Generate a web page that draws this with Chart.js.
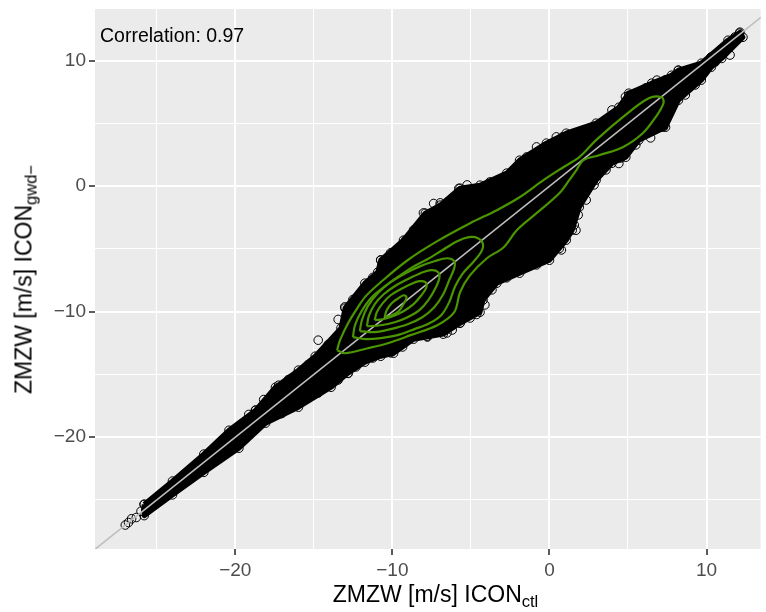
<!DOCTYPE html>
<html>
<head>
<meta charset="utf-8">
<script src="https://cdn.jsdelivr.net/npm/chart.js@4.4.1/dist/chart.umd.min.js"></script>
<style>
  html, body { margin: 0; padding: 0; background: #ffffff; }
  #wrap { position: relative; width: 766px; height: 612px; overflow: hidden; }
  #wrap canvas { position: absolute; left: 0; top: 0; }
  .lbl { position: absolute; font-family: "Liberation Sans", Arial, sans-serif; color: #000; line-height: 1; white-space: nowrap; }
  .lbl sub { font-size: 0.72em; vertical-align: -5px; line-height: 0; }
  #xtitle { left: 135.5px; width: 600px; top: 582.5px; font-size: 23px; text-align: center; }
  #ytitle { left: -176.3px; width: 400px; top: 267.5px; font-size: 23px; text-align: center; transform: rotate(-90deg); }
  #corr { left: 100px; top: 25.7px; font-size: 19.5px; }
</style>
</head>
<body>
<div id="wrap">
  <canvas id="chart" width="766" height="612"></canvas>
  <div class="lbl" id="corr">Correlation: 0.97</div>
  <div class="lbl" id="xtitle">ZMZW [m/s] ICON<sub>ctl</sub></div>
  <div class="lbl" id="ytitle">ZMZW [m/s] ICON<sub>gwd−</sub></div>
</div>
<script>
/* ===================================
   DATA
   =================================== */

// axis limits of the panel and tick spacing
const xLimits = [-28.93, 13.45];
const yLimits = [-28.91, 14.12];
const tickStep = 5;

// outline of the dense (solid black) part of the point cloud: ctl vs gwd-
const cloudOutline = [
  [-25.8, -25.35], [-24.0, -23.5], [-22.0, -21.35], [-20.4, -19.45], [-18.7, -17.85],
  [-17.44, -16.02], [-15.98, -14.66], [-14.91, -13.55], [-13.27, -11.31], [-13.01, -9.72],
  [-11.75, -7.73], [-10.93, -6.85], [-10.74, -5.90], [-9.29, -4.30], [-7.90, -2.15],
  [-6.95, -1.51], [-5.69, -0.16], [-4.42, 0.08], [-2.72, 1.04], [-1.90, 2.07],
  [-0.19, 3.43], [1.07, 4.22], [2.97, 5.02], [4.42, 6.29], [5.05, 7.41],
  [6.51, 8.21], [7.77, 8.84], [8.21, 9.24], [9.67, 9.80], [11.37, 11.63],
  [12.13, 12.27], [12.32, 11.87], [10.97, 10.18], [10.30, 9.48], [9.67, 8.45],
  [8.21, 6.85], [7.39, 4.70], [5.69, 3.67], [4.86, 2.31], [3.98, 1.83],
  [2.97, 0.48], [1.90, -1.67], [1.45, -3.51], [1.07, -4.30], [0.0, -5.90],
  [-1.90, -6.93], [-3.35, -7.73], [-4.23, -9.08], [-4.42, -10.04], [-5.69, -10.92],
  [-6.76, -11.79], [-8.65, -12.19], [-9.92, -13.31], [-10.74, -13.55], [-11.75, -14.02],
  [-12.82, -14.90], [-13.90, -16.02], [-15.98, -17.61], [-18.07, -18.88], [-19.77, -20.88],
  [-22.0, -22.8], [-24.0, -24.6], [-25.8, -26.25],
];

// single open circles visible in the two thin tails
const tailLowPoints = [
  [-27.0, -27.0], [-26.8, -26.8], [-26.6, -26.5], [-26.3, -26.4], [-26.0, -25.9],
  [-25.7, -25.8], [-25.4, -25.2], [-25.0, -25.1], [-24.6, -24.4], [-24.2, -24.4],
  [-23.8, -23.6], [-23.3, -23.4], [-22.9, -22.6], [-22.4, -22.6], [-21.9, -21.5],
  [-21.4, -21.7], [-20.9, -20.4], [-20.5, -20.9], [-20.1, -19.6], [-19.6, -20.3],
];
const tailHighPoints = [
  [12.1, 12.2], [11.9, 11.8], [11.6, 11.5], [11.3, 11.0], [11.0, 10.9], [10.6, 10.3], [10.2, 10.0],
];

// open circles sticking out of the upper-left side of the cloud
const upperEdgePoints = [
  [-19.14, -18.19], [-18.19, -17.00], [-16.61, -15.40], [-15.35, -14.20], [-14.08, -12.61],
  [-13.45, -10.62], [-12.51, -9.03], [-11.56, -8.23], [-11.24, -7.27], [-10.74, -5.87],
  [-10.11, -5.31], [-8.65, -3.49], [-8.02, -2.13], [-6.95, -1.33], [-5.24, 0.10],
  [-3.79, 0.34], [-3.35, 0.34], [-1.45, 2.33], [-0.82, 3.13], [0.44, 3.93],
  [1.89, 4.33], [3.60, 5.28], [3.98, 6.07], [5.50, 7.43], [6.13, 7.83],
  [7.39, 8.47], [8.65, 9.10], [9.47, 9.42], [10.29, 10.30], [11.18, 11.09],
  [11.81, 11.89], [-5.77, -0.18], [-6.71, -1.65], [-7.37, -1.38], [-9.16, -4.30],
  [-9.47, -5.10], [-13.03, -9.62], [-14.72, -12.27], [-17.24, -15.86], [-18.72, -17.85],
  [0.84, 3.93], [4.84, 7.12], [5.07, 7.25], [6.76, 8.05], [6.84, 8.45], [8.21, 9.24],
];

// open circles sticking out of the lower-right side of the cloud
const lowerEdgePoints = [
  [11.50, 10.45], [10.55, 9.89], [9.28, 8.07], [8.65, 7.27], [7.71, 6.08],
  [7.26, 4.72], [6.44, 3.85], [5.50, 3.29], [4.55, 2.25], [3.60, 1.30],
  [2.84, 0.10], [2.34, -1.10], [1.83, -2.29], [1.58, -3.09], [0.76, -5.08],
  [-0.82, -6.27], [-2.72, -7.30], [-3.66, -8.26], [-4.11, -9.46], [-5.05, -10.50],
  [-6.19, -11.46], [-7.77, -12.02], [-9.35, -12.81], [-11.24, -13.69], [-12.32, -14.40],
  [-13.45, -15.44], [-14.72, -16.48], [-16.61, -17.59], [-17.87, -18.47], [-19.14, -19.58],
  [-12.82, -14.92], [-14.29, -15.99], [-17.04, -18.12], [-10.11, -13.28], [-7.79, -11.95],
  [-6.52, -11.69], [-5.68, -10.89], [-4.63, -10.22], [-1.69, -6.16], [-2.53, -6.69],
  [0.63, -4.96], [1.69, -3.51], [4.42, 1.81], [7.16, 4.73], [9.58, 8.71],
];

// 1:1 reference line
const refLine = [[-30, -30], [15, 15]];

// 2d density contours, outermost first
const contour1 = [
  [-13.52, -13.07], [-13.01, -13.31], [-11.56, -12.91], [-10.30, -12.51], [-8.84, -11.87],
  [-7.14, -11.08], [-6.06, -10.04], [-5.69, -8.45], [-5.05, -7.09], [-3.98, -5.74],
  [-2.91, -4.86], [-2.08, -3.51], [-0.82, -2.15], [0.63, -0.56], [1.26, 0.48],
  [1.71, 1.27], [2.15, 2.07], [3.16, 2.47], [4.67, 3.11], [5.94, 4.22],
  [6.76, 5.50], [7.26, 6.61], [7.14, 7.09], [6.32, 7.01], [4.67, 5.50],
  [2.97, 3.67], [1.90, 2.31], [0.88, 1.51], [-0.38, 0.48], [-1.90, -0.88],
  [-3.35, -1.91], [-5.05, -2.95], [-7.14, -4.38], [-9.03, -5.90], [-10.74, -7.65],
  [-11.69, -8.76], [-12.19, -9.64], [-12.82, -10.92], [-13.33, -12.27],
];
const contour2 = [
  [-12.51, -12.03], [-12.38, -11.08], [-12.00, -10.04], [-11.37, -8.92], [-10.55, -8.05],
  [-9.67, -7.25], [-8.72, -6.45], [-7.77, -5.82], [-6.82, -5.10], [-5.87, -4.38],
  [-5.12, -4.06], [-4.55, -4.14], [-4.23, -4.62], [-4.36, -5.26], [-4.86, -6.06],
  [-5.50, -6.93], [-6.00, -7.97], [-6.38, -9.24], [-6.89, -10.28], [-7.64, -10.92],
  [-8.59, -11.39], [-9.67, -11.87], [-10.74, -12.11], [-11.69, -12.19],
];
const contour3 = [
  [-12.07, -11.55], [-11.94, -10.68], [-11.56, -9.56], [-10.93, -8.53], [-10.11, -7.65],
  [-9.16, -6.93], [-8.21, -6.37], [-7.33, -5.98], [-6.51, -5.74], [-6.06, -5.98],
  [-6.06, -6.53], [-6.38, -7.49], [-6.76, -8.61], [-7.33, -9.64], [-8.09, -10.44],
  [-9.03, -11.00], [-10.11, -11.39], [-11.12, -11.63],
];
const contour4 = [
  [-11.62, -11.16], [-11.50, -10.36], [-11.12, -9.40], [-10.55, -8.61], [-9.85, -7.97],
  [-9.03, -7.41], [-8.21, -6.93], [-7.52, -6.69], [-7.08, -6.85], [-7.01, -7.33],
  [-7.26, -8.13], [-7.71, -9.08], [-8.28, -9.88], [-9.03, -10.44], [-9.85, -10.84],
  [-10.74, -11.08],
];
const contour5 = [
  [-11.12, -10.68], [-10.99, -10.04], [-10.61, -9.32], [-10.11, -8.69], [-9.48, -8.21],
  [-8.84, -7.81], [-8.28, -7.57], [-7.90, -7.65], [-7.83, -8.05], [-8.15, -8.69],
  [-8.65, -9.40], [-9.29, -9.96], [-9.98, -10.36], [-10.61, -10.60],
];
const contour6 = [
  [-10.49, -10.44], [-10.36, -9.88], [-10.04, -9.32], [-9.60, -8.92], [-9.29, -8.69],
  [-9.10, -8.84], [-9.22, -9.24], [-9.60, -9.96], [-10.04, -10.28],
];

/* ===================================
   STYLE
   =================================== */

const PANEL_BG = '#EBEBEB';
const GREEN = '#4A9500';
const LINE_GREY = '#BEBEBE';

Chart.defaults.font.family = '"Liberation Sans", Arial, sans-serif';
Chart.defaults.color = '#4D4D4D';

function toXY(pts) {
  return pts.map(function (p) { return { x: p[0], y: p[1] }; });
}

function closeLoop(pts) {
  return pts.concat([pts[0]]);
}

function isMajor(v) {
  return Math.abs(v % 10) < 1e-9;
}

function tickText(v) {
  if (!isMajor(v)) return '';
  return v < 0 ? '\u2212' + Math.abs(v) : String(v);
}

const panelBackground = {
  id: 'panelBackground',
  beforeDraw(chart) {
    const a = chart.chartArea;
    const ctx = chart.ctx;
    ctx.save();
    ctx.fillStyle = PANEL_BG;
    ctx.fillRect(a.left, a.top, a.right - a.left, a.bottom - a.top);
    ctx.restore();
  },
};

function axisOptions(limits, isX) {
  return {
    type: 'linear',
    min: limits[0],
    max: limits[1],
    border: { display: false },
    grid: {
      color: '#FFFFFF',
      lineWidth: function (c) { return isMajor(c.tick.value) ? 2 : 1; },
      tickColor: function (c) { return isMajor(c.tick.value) ? '#333333' : 'rgba(0,0,0,0)'; },
      tickWidth: 1.6,
      tickLength: 6,
    },
    ticks: {
      stepSize: tickStep,
      includeBounds: false,
      autoSkip: false,
      maxRotation: 0,
      padding: isX ? 4 : 3,
      font: { size: 19 },
      color: '#4D4D4D',
      callback: tickText,
    },
    afterFit: function (scale) {
      if (isX) {
        scale.height = 63;
        scale.paddingLeft = 0;
        scale.paddingRight = 0;
      } else {
        scale.width = 95;
        scale.paddingTop = 0;
        scale.paddingBottom = 0;
      }
    },
  };
}

const circleStyle = {
  showLine: false,
  pointRadius: 4.3,
  pointBorderWidth: 1,
  pointBorderColor: '#000000',
  pointBackgroundColor: 'rgba(0,0,0,0)',
  pointHoverRadius: 4.3,
};

const contours = [contour1, contour2, contour3, contour4, contour5, contour6];

const datasets = contours.map(function (c) {
  return {
    data: toXY(closeLoop(c)),
    showLine: true,
    borderColor: GREEN,
    borderWidth: 2.2,
    pointRadius: 0,
    tension: 0.35,
    fill: false,
    order: 0,
  };
});

datasets.push({
  data: toXY(refLine),
  showLine: true,
  borderColor: LINE_GREY,
  borderWidth: 1.6,
  pointRadius: 0,
  fill: false,
  order: 1,
});

datasets.push(Object.assign({
  data: toXY(tailLowPoints.concat(tailHighPoints, upperEdgePoints, lowerEdgePoints)),
  order: 2,
}, circleStyle));

datasets.push(Object.assign({}, circleStyle, {
  data: toXY(closeLoop(cloudOutline)),
  showLine: true,
  borderColor: '#000000',
  borderWidth: 5,
  borderJoinStyle: 'round',
  backgroundColor: '#000000',
  fill: 'shape',
  tension: 0,
  order: 3,
}));

new Chart(document.getElementById('chart').getContext('2d'), {
  type: 'scatter',
  data: { datasets: datasets },
  options: {
    responsive: false,
    animation: false,
    devicePixelRatio: 1,
    layout: { padding: { top: 9, right: 0, bottom: 0, left: 0 } },
    scales: {
      x: axisOptions(xLimits, true),
      y: axisOptions(yLimits, false),
    },
    plugins: {
      legend: { display: false },
      tooltip: { enabled: false },
    },
    events: [],
  },
  plugins: [panelBackground],
});
</script>
</body>
</html>
